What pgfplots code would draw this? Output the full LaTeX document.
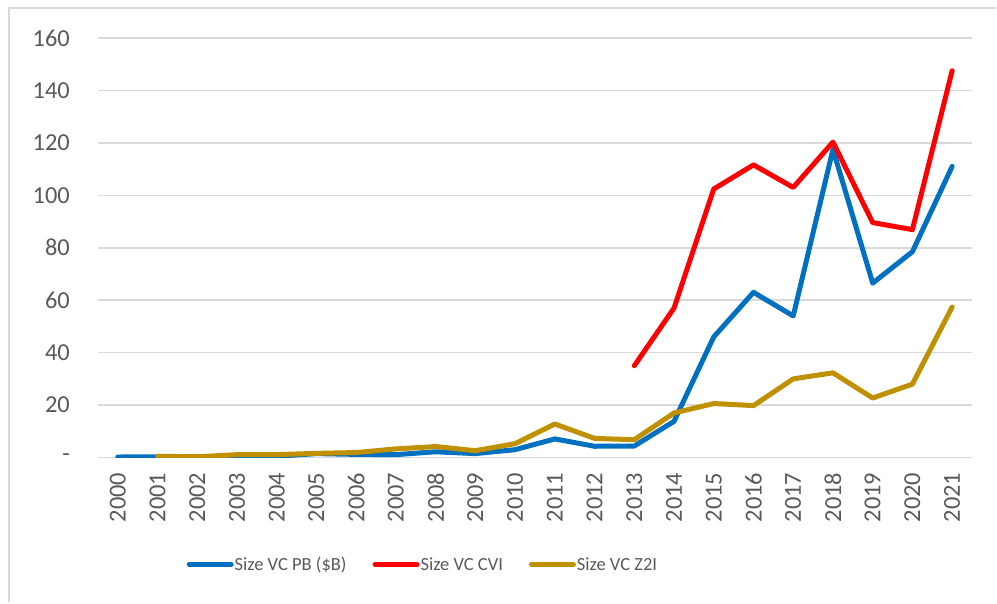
\documentclass[border=0pt]{standalone}
\usepackage{pgfplots}
\pgfplotsset{compat=1.18}
\usepackage{fontspec}
\setmainfont{Carlito}
\definecolor{pbblue}{HTML}{0070C0}
\definecolor{cvired}{HTML}{FF0000}
\definecolor{ztigold}{HTML}{BF9000}
\definecolor{tickgray}{HTML}{595959}
\definecolor{gridgray}{HTML}{D9D9D9}
\begin{document}
\begin{tikzpicture}
\begin{axis}[
  scale only axis,
  width=875bp, height=420bp,
  xmin=1999.5, xmax=2021.5,
  ymin=0, ymax=160,
  axis line style={draw=none},
  ytick={0,20,...,160},
  yticklabels={-,20,40,60,80,100,120,140,160},
  xtick={2000,...,2021},
  xticklabels={2000,2001,2002,2003,2004,2005,2006,2007,2008,2009,2010,2011,2012,2013,2014,2015,2016,2017,2018,2019,2020,2021},
  major tick length=0pt,
  ymajorgrids,
  grid style={gridgray, line width=1.6bp},
  yticklabel style={font=\fontsize{24.5}{28}\selectfont, color=tickgray, anchor=east, inner sep=0pt, xshift=-28bp},
  xticklabel style={font=\fontsize{24.5}{28}\selectfont, color=tickgray, yshift=-15bp, rotate=90, anchor=east, inner sep=0pt},
  every axis plot/.append style={line width=5bp, line join=round, line cap=round, mark=none},
  legend columns=3,
  legend style={draw=none, fill=none, inner sep=0pt, font=\fontsize{18.6}{22}\selectfont, text=tickgray,
    at={(axis description cs:0.1014,-0.2548)}, anchor=west,
    /tikz/every even column/.append style={column sep=25bp},
    nodes={inner sep=1bp}},
  legend image code/.code={\draw[#1, line cap=round] (0bp,0bp) -- (42bp,0bp);},
]
\addplot[pbblue] coordinates {
(2000,0.2) (2001,0.3) (2002,0.3) (2003,0.4) (2004,0.5) (2005,1.5) (2006,1.2)
(2007,1.1) (2008,2.2) (2009,1.5) (2010,3.0) (2011,7.1) (2012,4.3) (2013,4.4)
(2014,13.8) (2015,46.0) (2016,63.0) (2017,54.0) (2018,117.5) (2019,66.5)
(2020,78.5) (2021,111.0)};
\addlegendentry{Size VC PB (\$B)}
\addplot[cvired] coordinates {
(2013,35.0) (2014,57.0) (2015,102.4) (2016,111.6) (2017,103.0) (2018,120.3)
(2019,89.6) (2020,86.9) (2021,147.5)};
\addlegendentry{Size VC CVI}
\addplot[ztigold] coordinates {
(2001,0.5) (2002,0.3) (2003,1.1) (2004,1.1) (2005,1.6) (2006,1.9) (2007,3.3)
(2008,4.2) (2009,2.6) (2010,5.3) (2011,12.8) (2012,7.3) (2013,6.8) (2014,17.0)
(2015,20.6) (2016,19.8) (2017,30.0) (2018,32.3) (2019,22.7) (2020,28.0)
(2021,57.4)};
\addlegendentry{Size VC Z2I}
\end{axis}
\pgfresetboundingbox
\path (current axis.south west) ++(-98bp,-145bp) coordinate (bbsw);
\path (current axis.north east) ++(24bp,38bp) coordinate (bbne);
\path (bbsw) rectangle (bbne);
\draw[gridgray, line width=2bp] ([xshift=9bp]bbsw) -- ([xshift=9bp,yshift=-8bp]bbsw |- bbne) -- ([yshift=-8bp]bbne);
\end{tikzpicture}
\end{document}
